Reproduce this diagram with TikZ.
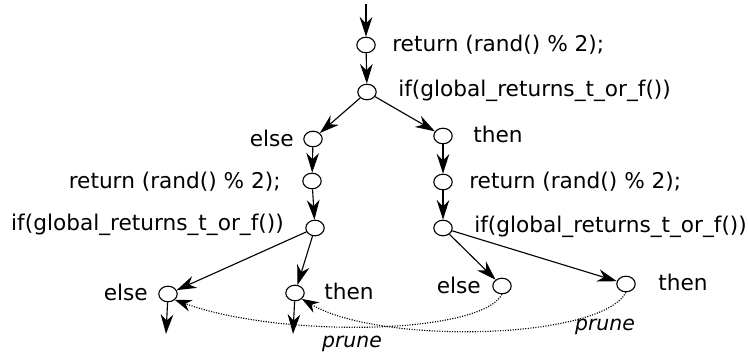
\documentclass[tikz,border=0pt]{standalone}
\usepackage{fontspec}
\setmainfont{DejaVu Sans}
\usetikzlibrary{shapes.geometric,arrows.meta}

\tikzset{
  stmt/.style={draw, ellipse, line width=0.8pt, minimum width=0.46cm, minimum height=0.39cm, inner sep=0pt},
  code/.style={inner sep=0pt, font=\fontsize{15.4}{18}\selectfont},
  flow/.style={line width=0.8pt, -{Stealth[length=14pt,width=9pt,inset=4.5pt]}},
  prune/.style={densely dotted, line width=0.8pt, -{Stealth[length=12pt,width=8.5pt,inset=4pt]}}
}

\begin{document}
\begin{tikzpicture}[x=0.025cm, y=-0.025cm]
    \useasboundingbox (0,0) rectangle (748,356);

    % outer function body
    \coordinate (entry) at (366,4);
    \node[stmt] (ret) at (366,45) {};
    \node[stmt] (cond) at (367,92) {};
    \node[code, anchor=west] (retlbl) at (392,45) {return (rand() \% 2);};
    \node[code, anchor=west] (condlbl) at (398,91) {if(global\_returns\_t\_or\_f())};

    % else branch
    \node[stmt] (els) at (313,139) {};
    \node[stmt] (elsret) at (312,181) {};
    \node[stmt] (elscond) at (315,228) {};
    \node[code, anchor=east] (elslbl) at (294,138) {else};
    \node[code, anchor=east] (elsretlbl) at (281,182) {return (rand() \% 2);};
    \node[code, anchor=east] (elscondlbl) at (284,225) {if(global\_returns\_t\_or\_f())};

    % then branch
    \node[stmt] (thn) at (443,136) {};
    \node[stmt] (thnret) at (443,182) {};
    \node[stmt] (thncond) at (443,228) {};
    \node[code, anchor=west] (thnlbl) at (473,134) {then};
    \node[code, anchor=west] (thnretlbl) at (469,182) {return (rand() \% 2);};
    \node[code, anchor=west] (thncondlbl) at (474,227) {if(global\_returns\_t\_or\_f())};

    % leaves
    \node[stmt] (ee) at (168,294) {};
    \node[stmt] (et) at (295,293) {};
    \node[stmt] (te) at (502,286) {};
    \node[stmt] (tt) at (626,284) {};
    \node[code, anchor=east] (eelbl) at (148,292) {else};
    \node[code, anchor=west] (etlbl) at (324,291) {then};
    \node[code, anchor=east] (telbl) at (481,285) {else};
    \node[code, anchor=west] (ttlbl) at (658,282) {then};
    \coordinate (eeout) at (166,334);
    \coordinate (etout) at (293,334);

    % control flow
    \draw[flow] (entry) -- (ret);
    \draw[flow] (ret) -- (cond);
    \draw[flow] (cond) -- (els);
    \draw[flow] (cond) -- (thn);
    \draw[flow] (els) -- (elsret);
    \draw[flow] (elsret) -- (elscond);
    \draw[flow] (thn) -- (thnret);
    \draw[flow] (thnret) -- (thncond);
    \draw[flow] (elscond) -- (ee);
    \draw[flow] (elscond) -- (et);
    \draw[flow] (thncond) -- (te);
    \draw[flow] (thncond) -- (tt);
    \draw[flow] (ee) -- (eeout);
    \draw[flow] (et) -- (etout);

    % pruned edges
    \draw[prune] (te.south) .. controls (480,335) and (280,338) .. (ee.south east);
    \draw[prune] (tt.south) .. controls (600,340) and (380,345) .. (et.south east);
    \node[code, font=\fontsize{14.5}{17}\selectfont\itshape] (prune1) at (352,344) {prune};
    \node[code, font=\fontsize{14.5}{17}\selectfont\itshape] (prune2) at (605,327) {prune};
\end{tikzpicture}
\end{document}
